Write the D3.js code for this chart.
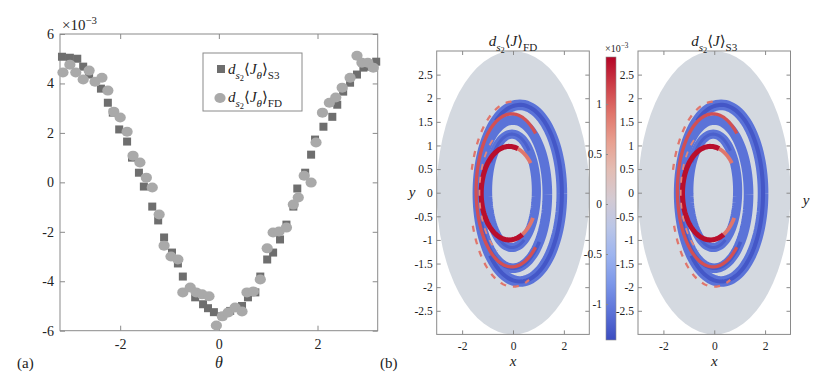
<!DOCTYPE html>
<head>
<meta charset="utf-8">
<title>ds2 J comparison</title>
<script src="https://cdn.jsdelivr.net/npm/d3@7"></script>
<style>
	body { margin: 0; background: white; }
	svg text { font-family: 'Liberation Serif', 'DejaVu Serif', serif; fill: #222; }
	.axis path, .axis line { stroke: #8a8a8a; stroke-width: 1px; }
	.axis text { font-family: 'Liberation Serif', serif; fill: #222; }
</style>
</head>
<body>
<script>
// (a) scatter values, theta and d_s2 <J_theta> in units of 1e-3
var thetaS3 = [-3.18,-3.02,-2.87,-2.75,-2.63,-2.39,-2.25,-2.15,-2.02,-1.86,-1.76,-1.62,-1.52,-1.35,-1.23,-1.11,-0.95,-0.83,-0.73,-0.48,-0.32,-0.22,-0.10,0.07,0.23,0.35,0.47,0.59,0.74,0.84,0.98,1.10,1.24,1.37,1.51,1.59,1.75,1.87,1.95,2.12,2.30,2.40,2.52,2.66,2.80,2.93,3.07,3.19];
var valS3 = [5.08,5.04,5.0,4.68,4.36,3.79,3.22,2.82,2.14,1.65,1.0,0.39,-0.17,-0.98,-1.54,-2.23,-2.84,-3.28,-3.81,-4.65,-4.93,-5.09,-5.25,-5.41,-5.2,-5.08,-5.0,-4.65,-4.45,-3.81,-3.12,-2.84,-2.31,-1.71,-0.98,-0.25,0.39,1.12,1.73,2.25,2.65,3.14,3.67,4.03,4.36,4.64,4.68,4.88];
var thetaFD = [-3.16,-3.02,-2.90,-2.75,-2.63,-2.51,-2.37,-2.25,-2.13,-2.00,-1.86,-1.74,-1.60,-1.47,-1.35,-1.21,-1.11,-0.97,-0.83,-0.73,-0.58,-0.46,-0.34,-0.20,-0.05,0.07,0.19,0.33,0.47,0.57,0.70,0.84,0.98,1.10,1.22,1.37,1.51,1.61,1.73,1.87,1.97,2.10,2.24,2.37,2.50,2.66,2.80,2.90,3.02,3.13];
var valFD = [4.44,4.76,4.44,4.16,4.52,4.07,4.23,3.71,2.86,2.62,2.05,1.08,0.80,0.19,-0.21,-1.30,-2.56,-3.0,-3.12,-4.45,-4.25,-4.45,-4.53,-4.61,-5.79,-5.42,-5.26,-5.06,-5.22,-4.45,-4.41,-3.93,-2.67,-2.03,-1.99,-1.83,-0.90,-0.61,0.27,-0.01,1.61,2.82,3.22,3.43,3.83,4.23,5.12,4.84,4.84,4.64];
var scatterXTicks = [-2, 0, 2];
var scatterYTicks = [-6, -4, -2, 0, 2, 4, 6];

// (b) field bands: ellipse arcs in x,y units (w = band width in x units), value in units of 1e-3
var blueBands = [
	{cx: 0.27, cy: -0.01, rx: 1.65, ry: 1.87, a0: 0, a1: 360, w: 0.42, v: -1.08},
	{cx: 0.0, cy: -0.03, rx: 1.35, ry: 1.57, a0: 0, a1: 360, w: 0.38, v: -1.08},
	{cx: -0.04, cy: 0.04, rx: 0.96, ry: 1.2, a0: 0, a1: 360, w: 0.36, v: -1.08}
];
var blueCores = [
	{cx: 0.27, cy: -0.01, rx: 1.65, ry: 1.87, a0: -135, a1: 125, w: 0.16, v: -1.28},
	{cx: 0.0, cy: -0.03, rx: 1.35, ry: 1.57, a0: 200, a1: 320, w: 0.14, v: -1.25},
	{cx: -0.04, cy: 0.04, rx: 0.96, ry: 1.2, a0: 45, a1: 150, w: 0.12, v: -1.22},
	{cx: -0.04, cy: 0.04, rx: 0.96, ry: 1.2, a0: 230, a1: 300, w: 0.12, v: -1.22}
];
var redArcs = [
	{cx: -0.05, cy: 0.05, rx: 1.4, ry: 1.62, a0: 48, a1: 312, w: 0.13, v: 1.1},
	{cx: -0.15, cy: -0.01, rx: 1.1, ry: 0.99, a0: 40, a1: 72, w: 0.15, v: 0.9},
	{cx: -0.15, cy: -0.01, rx: 1.1, ry: 0.99, a0: 298, a1: 328, w: 0.15, v: 0.9},
	{cx: -0.15, cy: -0.01, rx: 1.1, ry: 0.99, a0: 72, a1: 298, w: 0.2, v: 1.42}
];
var redDashes = [
	{cx: 0.0, cy: -0.03, rx: 1.68, ry: 1.96, a0: 92, a1: 165, w: 0.09, v: 0.9},
	{cx: 0.0, cy: -0.03, rx: 1.68, ry: 1.96, a0: 200, a1: 292, w: 0.09, v: 0.9},
	{cx: -0.1, cy: 0.0, rx: 1.22, ry: 1.36, a0: 125, a1: 245, w: 0.07, v: 0.8}
];
var fieldXTicks = [-2, 0, 2];
var fieldYTicks = [-2.5, -2, -1.5, -1, -0.5, 0, 0.5, 1, 1.5, 2, 2.5];
var colorRange = [-1.36, 1.47];
var colorTicks = [-1, -0.5, 0, 0.5, 1];
var coolwarm = ["#3b4cc0", "#8db0fe", "#dddddd", "#f49a7b", "#b40426"];

var width = 830, height = 382;
var svg = d3.select("body").append("svg")
	.attr("width", width)
	.attr("height", height);

var fmt = function(d) { return String(d); };

// text with sub/subsub/super scripts
function rich(g, x, y, parts, size, anchor) {
	var t = g.append("text").attr("x", x).attr("y", y)
		.attr("font-size", size).attr("text-anchor", anchor || "start");
	var off = 0;
	var shifts = [0, 0.3, 0.48, -0.42];
	var scales = [1, 0.74, 0.56, 0.72];
	parts.forEach(function(p) {
		var lvl = p[2] || 0;
		var target = shifts[lvl] * size;
		t.append("tspan")
			.attr("dy", target - off)
			.attr("font-size", size * scales[lvl])
			.attr("font-style", p[1] ? "italic" : "normal")
			.text(p[0]);
		off = target;
	});
	return t;
}

// ---------- (a) ----------
var xA = d3.scaleLinear().domain([-3.22, 3.22]).range([60, 377.7]);
var yA = d3.scaleLinear().domain([-6, 6]).range([330.7, 34]);

var gA = svg.append("g");
gA.append("g").attr("class", "axis").attr("transform", "translate(0," + yA(-6) + ")")
	.call(d3.axisBottom(xA).tickValues(scatterXTicks).tickFormat(fmt).tickSizeInner(-5).tickSizeOuter(0).tickPadding(8))
	.call(function(g) { g.selectAll("text").attr("font-size", 14); g.select(".domain").remove(); });
gA.append("g").attr("class", "axis").attr("transform", "translate(0," + yA(6) + ")")
	.call(d3.axisTop(xA).tickValues(scatterXTicks).tickFormat("").tickSizeInner(-5).tickSizeOuter(0))
	.call(function(g) { g.select(".domain").remove(); });
gA.append("g").attr("class", "axis").attr("transform", "translate(" + xA(-3.22) + ",0)")
	.call(d3.axisLeft(yA).tickValues(scatterYTicks).tickFormat(fmt).tickSizeInner(-5).tickSizeOuter(0).tickPadding(6))
	.call(function(g) { g.selectAll("text").attr("font-size", 14); g.select(".domain").remove(); });
gA.append("g").attr("class", "axis").attr("transform", "translate(" + xA(3.22) + ",0)")
	.call(d3.axisRight(yA).tickValues(scatterYTicks).tickFormat("").tickSizeInner(-5).tickSizeOuter(0))
	.call(function(g) { g.select(".domain").remove(); });
gA.append("rect")
	.attr("x", xA(-3.22)).attr("y", yA(6))
	.attr("width", xA(3.22) - xA(-3.22)).attr("height", yA(-6) - yA(6))
	.attr("fill", "none").attr("stroke", "#8a8a8a");

gA.append("g").selectAll("rect")
	.data(d3.zip(thetaS3, valS3))
	.enter().append("rect")
		.attr("x", function(d) { return xA(d[0]) - 4; })
		.attr("y", function(d) { return yA(d[1]) - 4; })
		.attr("width", 8).attr("height", 8)
		.attr("fill", "#6e6e6e");
gA.append("g").selectAll("ellipse")
	.data(d3.zip(thetaFD, valFD))
	.enter().append("ellipse")
		.attr("cx", function(d) { return xA(d[0]); })
		.attr("cy", function(d) { return yA(d[1]); })
		.attr("rx", 5.6).attr("ry", 5)
		.attr("fill", "#a9a9a9");

// legend
var lg = gA.append("g");
lg.append("rect").attr("x", 203).attr("y", 53).attr("width", 99).attr("height", 58)
	.attr("fill", "white").attr("stroke", "#8a8a8a");
lg.append("rect").attr("x", 217).attr("y", 65).attr("width", 8).attr("height", 8).attr("fill", "#6e6e6e");
lg.append("ellipse").attr("cx", 220).attr("cy", 98).attr("rx", 5.6).attr("ry", 5).attr("fill", "#a9a9a9");
rich(lg, 228, 74, [["d", 1], ["s", 1, 1], ["2", 0, 2], ["\u27e8", 0], ["J", 1], ["\u03b8", 1, 1], ["\u27e9", 0], ["S3", 0, 1]], 15);
rich(lg, 228, 102, [["d", 1], ["s", 1, 1], ["2", 0, 2], ["\u27e8", 0], ["J", 1], ["\u03b8", 1, 1], ["\u27e9", 0], ["FD", 0, 1]], 15);

rich(gA, 62, 30, [["\u00d710", 0], ["\u22123", 0, 3]], 15);
gA.append("text").attr("x", xA(0)).attr("y", 368).attr("text-anchor", "middle")
	.attr("font-size", 16).attr("font-style", "italic").text("\u03b8");
gA.append("text").attr("x", 17).attr("y", 368).attr("font-size", 15).text("(a)");

// ---------- (b) ----------
var color = d3.scaleSequential(d3.interpolateRgbBasis(coolwarm)).domain(colorRange);
var yB = d3.scaleLinear().domain([-3, 3]).range([334.4, 51]);

function arcPoints(r) {
	var step = (r.a1 - r.a0) / 120;
	return d3.range(0, 121).map(function(i) {
		var a = (r.a0 + i * step) * Math.PI / 180;
		return [r.cx + r.rx * Math.cos(a), r.cy + r.ry * Math.sin(a)];
	});
}

function fieldPanel(x0, x1, title, yLabelY, yLabelX) {
	var xB = d3.scaleLinear().domain([-3, 3]).range([x0, x1]);
	var g = svg.append("g");
	var id = "clip" + Math.round(x0);
	g.append("clipPath").attr("id", id).append("rect")
		.attr("x", x0).attr("y", yB(3)).attr("width", x1 - x0).attr("height", yB(-3) - yB(3));
	var body = g.append("g").attr("clip-path", "url(#" + id + ")");
	body.append("ellipse")
		.attr("cx", xB(0)).attr("cy", yB(0))
		.attr("rx", xB(3) - xB(0)).attr("ry", yB(0) - yB(3))
		.attr("fill", "#d4d9e0");

	var line = d3.line().x(function(p) { return xB(p[0]); }).y(function(p) { return yB(p[1]); });
	var px = function(w) { return xB(w) - xB(0); };
	function draw(list, dash) {
		body.append("g").selectAll("path").data(list).enter().append("path")
			.attr("d", function(r) { return line(arcPoints(r)); })
			.attr("fill", "none")
			.attr("stroke", function(r) { return color(r.v); })
			.attr("stroke-width", function(r) { return px(r.w); })
			.attr("stroke-dasharray", dash ? "6,7" : null);
	}
	draw(blueBands);
	draw(blueCores);
	draw(redArcs);
	draw(redDashes, true);

	g.append("g").attr("class", "axis").attr("transform", "translate(0," + yB(-3) + ")")
		.call(d3.axisBottom(xB).tickValues(fieldXTicks).tickFormat(fmt).tickSizeInner(-4).tickSizeOuter(0).tickPadding(7))
		.call(function(s) { s.selectAll("text").attr("font-size", 11.5); s.select(".domain").remove(); });
	g.append("g").attr("class", "axis").attr("transform", "translate(0," + yB(3) + ")")
		.call(d3.axisTop(xB).tickValues(fieldXTicks).tickFormat("").tickSizeInner(-4).tickSizeOuter(0))
		.call(function(s) { s.select(".domain").remove(); });
	g.append("g").attr("class", "axis").attr("transform", "translate(" + x0 + ",0)")
		.call(d3.axisLeft(yB).tickValues(fieldYTicks).tickFormat(fmt).tickSizeInner(-4).tickSizeOuter(0).tickPadding(4))
		.call(function(s) { s.selectAll("text").attr("font-size", 11.5); s.select(".domain").remove(); });
	g.append("g").attr("class", "axis").attr("transform", "translate(" + x1 + ",0)")
		.call(d3.axisRight(yB).tickValues(fieldYTicks).tickFormat("").tickSizeInner(-4).tickSizeOuter(0))
		.call(function(s) { s.select(".domain").remove(); });
	g.append("rect").attr("x", x0).attr("y", yB(3)).attr("width", x1 - x0).attr("height", yB(-3) - yB(3))
		.attr("fill", "none").attr("stroke", "#8a8a8a");

	rich(g, xB(0), 46, [["d", 1], ["s", 1, 1], ["2", 0, 2], ["\u27e8", 0], ["J", 1], ["\u27e9", 0], [title, 0, 1]], 15, "middle");
	g.append("text").attr("x", xB(0)).attr("y", 366).attr("text-anchor", "middle")
		.attr("font-size", 15).attr("font-style", "italic").text("x");
	g.append("text").attr("x", yLabelX).attr("y", yLabelY).attr("text-anchor", "middle")
		.attr("font-size", 15).attr("font-style", "italic").text("y");
}

fieldPanel(436.7, 589.3, "FD", 197, 412);
fieldPanel(638, 790.5, "S3", 205, 806);

// colorbar
var cbX = 606, cbW = 10;
var yC = d3.scaleLinear().domain(colorRange).range([340, 57]);
var defs = svg.append("defs");
var grad = defs.append("linearGradient").attr("id", "cbgrad")
	.attr("x1", 0).attr("y1", 1).attr("x2", 0).attr("y2", 0);
d3.range(0, 11).forEach(function(i) {
	var v = colorRange[0] + (colorRange[1] - colorRange[0]) * i / 10;
	grad.append("stop").attr("offset", i / 10).attr("stop-color", color(v));
});
svg.append("rect").attr("x", cbX).attr("y", yC(colorRange[1]))
	.attr("width", cbW).attr("height", yC(colorRange[0]) - yC(colorRange[1]))
	.attr("fill", "url(#cbgrad)").attr("stroke", "#8a8a8a").attr("stroke-width", 0.6);
svg.append("g").attr("class", "axis").attr("transform", "translate(" + cbX + ",0)")
	.call(d3.axisLeft(yC).tickValues(colorTicks).tickFormat(fmt).tickSizeInner(-2).tickSizeOuter(0).tickPadding(4))
	.call(function(s) { s.selectAll("text").attr("font-size", 11.5); s.select(".domain").remove(); });
rich(svg, 605, 52, [["\u00d710", 0], ["\u22123", 0, 3]], 10);

svg.append("text").attr("x", 380).attr("y", 368).attr("font-size", 15).text("(b)");
</script>
</body>
